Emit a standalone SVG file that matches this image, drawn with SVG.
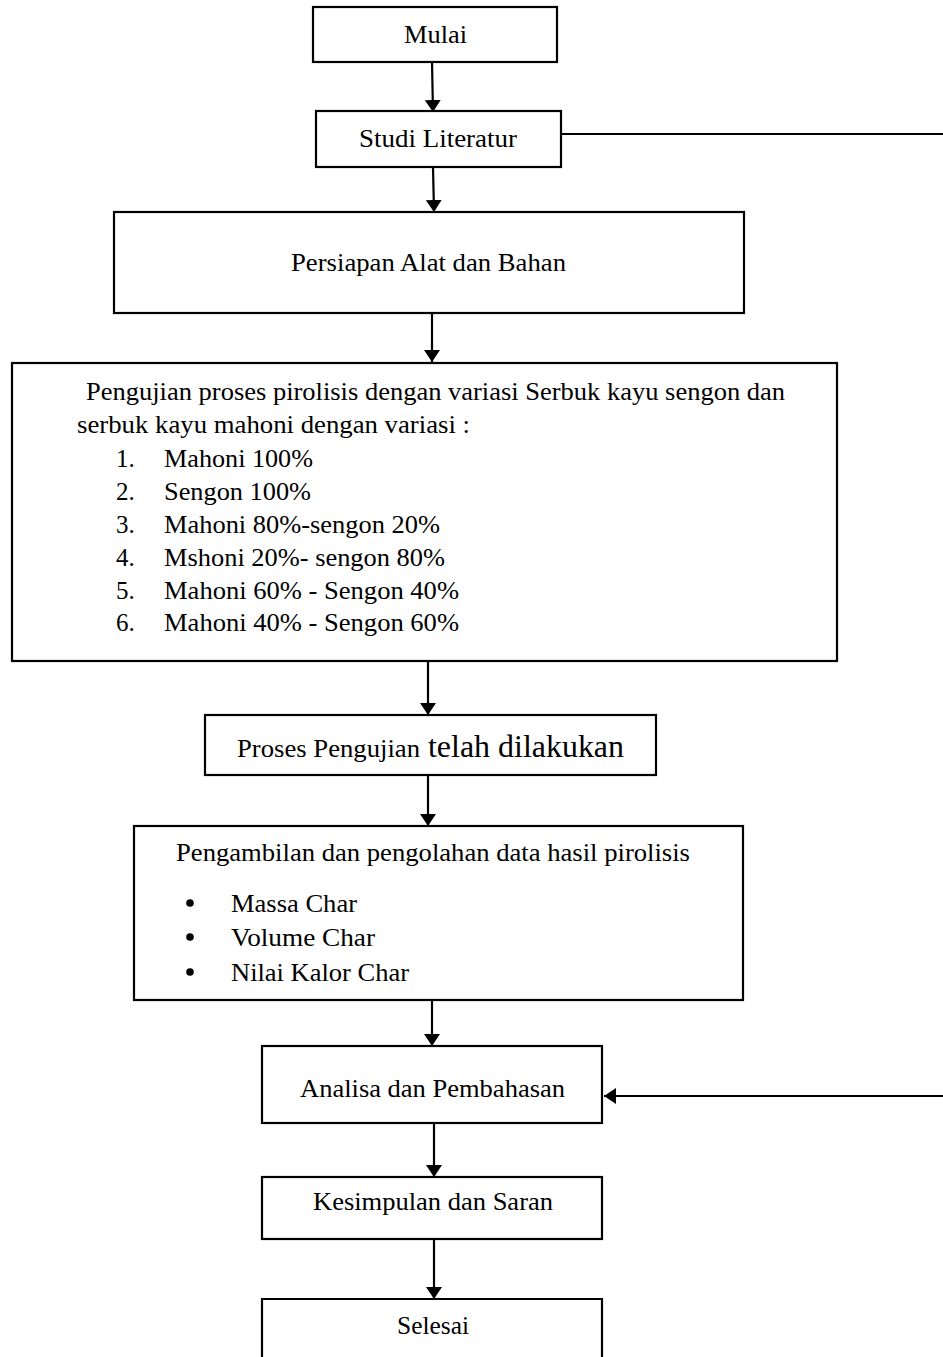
<svg xmlns="http://www.w3.org/2000/svg" width="943" height="1357" viewBox="0 0 943 1357">
<style>
.box{fill:#fff;stroke:#000;stroke-width:2.2}
.t{font-family:"Liberation Serif","Times New Roman",Times,serif;font-size:25px;fill:#000}
.c{text-anchor:middle}
.ln{stroke:#000;stroke-width:2.2;fill:none}
</style>
<defs>
<marker id="ah" viewBox="0 0 12 16" refX="12" refY="8" markerWidth="12" markerHeight="16" markerUnits="userSpaceOnUse" orient="auto">
<path d="M0,0 L12,8 L0,16 Z" fill="#000"/>
</marker>
</defs>
<rect width="943" height="1357" fill="#fff"/>
<g id="connectors">
<line class="ln" x1="432" y1="62" x2="433" y2="112" marker-end="url(#ah)"/>
<line class="ln" x1="433" y1="167" x2="434" y2="212" marker-end="url(#ah)"/>
<line class="ln" x1="432" y1="311" x2="432" y2="362" marker-end="url(#ah)"/>
<line class="ln" x1="428" y1="661" x2="428" y2="715" marker-end="url(#ah)"/>
<line class="ln" x1="428" y1="775" x2="428" y2="826" marker-end="url(#ah)"/>
<line class="ln" x1="432" y1="1000" x2="432" y2="1046" marker-end="url(#ah)"/>
<line class="ln" x1="434" y1="1123" x2="434" y2="1177" marker-end="url(#ah)"/>
<line class="ln" x1="434" y1="1239" x2="434" y2="1299" marker-end="url(#ah)"/>
<line class="ln" x1="561" y1="134" x2="943" y2="134"/>
<line class="ln" x1="943" y1="1096" x2="604" y2="1096" marker-end="url(#ah)"/>
</g>
<g id="mulai">
<rect class="box" x="313" y="7" width="244" height="55"/>
<text class="t" x="404" y="43" textLength="63" lengthAdjust="spacingAndGlyphs">Mulai</text>
</g>
<g id="studi">
<rect class="box" x="316" y="111" width="245" height="56"/>
<text class="t" x="359" y="147" textLength="158" lengthAdjust="spacingAndGlyphs">Studi Literatur</text>
</g>
<g id="persiapan">
<rect class="box" x="114" y="212" width="630" height="101"/>
<text class="t" x="291" y="271" textLength="275" lengthAdjust="spacingAndGlyphs">Persiapan Alat dan Bahan</text>
</g>
<g id="pengujian">
<rect class="box" x="12" y="363" width="825" height="298"/>
<text class="t" x="86" y="400" textLength="699" lengthAdjust="spacingAndGlyphs">Pengujian proses pirolisis dengan variasi Serbuk kayu sengon dan</text>
<text class="t" x="77" y="433" textLength="393" lengthAdjust="spacingAndGlyphs">serbuk kayu mahoni dengan variasi :</text>
<text class="t" x="116" y="467">1.</text>
<text class="t" x="164" y="467" textLength="149" lengthAdjust="spacingAndGlyphs">Mahoni 100%</text>
<text class="t" x="116" y="500">2.</text>
<text class="t" x="164" y="500" textLength="147" lengthAdjust="spacingAndGlyphs">Sengon 100%</text>
<text class="t" x="116" y="533">3.</text>
<text class="t" x="164" y="533" textLength="276" lengthAdjust="spacingAndGlyphs">Mahoni 80%-sengon 20%</text>
<text class="t" x="116" y="566">4.</text>
<text class="t" x="164" y="566" textLength="281" lengthAdjust="spacingAndGlyphs">Mshoni 20%- sengon 80%</text>
<text class="t" x="116" y="599">5.</text>
<text class="t" x="164" y="599" textLength="295" lengthAdjust="spacingAndGlyphs">Mahoni 60% - Sengon 40%</text>
<text class="t" x="116" y="631">6.</text>
<text class="t" x="164" y="631" textLength="295" lengthAdjust="spacingAndGlyphs">Mahoni 40% - Sengon 60%</text>
</g>
<g id="proses">
<rect class="box" x="205" y="715" width="451" height="60"/>
<text class="t" x="237" y="757" textLength="183" lengthAdjust="spacingAndGlyphs">Proses Pengujian</text>
<text class="t" x="428" y="757" style="font-size:31px" textLength="196" lengthAdjust="spacingAndGlyphs">telah dilakukan</text>
</g>
<g id="pengambilan">
<rect class="box" x="134" y="826" width="609" height="174"/>
<text class="t" x="176" y="861" textLength="514" lengthAdjust="spacingAndGlyphs">Pengambilan dan pengolahan data hasil pirolisis</text>
<circle cx="190" cy="903" r="3.8" fill="#000"/>
<text class="t" x="231" y="912" textLength="126" lengthAdjust="spacingAndGlyphs">Massa Char</text>
<circle cx="190" cy="937" r="3.8" fill="#000"/>
<text class="t" x="231" y="946" textLength="144" lengthAdjust="spacingAndGlyphs">Volume Char</text>
<circle cx="190" cy="972" r="3.8" fill="#000"/>
<text class="t" x="231" y="981" textLength="178" lengthAdjust="spacingAndGlyphs">Nilai Kalor Char</text>
</g>
<g id="analisa">
<rect class="box" x="262" y="1046" width="340" height="77"/>
<text class="t" x="300" y="1097" textLength="265" lengthAdjust="spacingAndGlyphs">Analisa dan Pembahasan</text>
</g>
<g id="kesimpulan">
<rect class="box" x="262" y="1177" width="340" height="62"/>
<text class="t" x="313" y="1210" textLength="240" lengthAdjust="spacingAndGlyphs">Kesimpulan dan Saran</text>
</g>
<g id="selesai">
<path class="ln" d="M262,1360 V1299 H602 V1360"/>
<text class="t" x="397" y="1334" textLength="72" lengthAdjust="spacingAndGlyphs">Selesai</text>
</g>
</svg>
